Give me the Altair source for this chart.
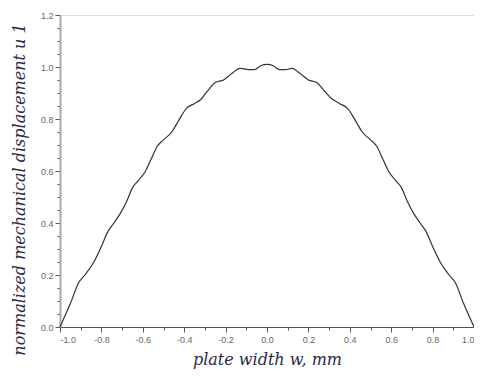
import altair as alt
import pandas as pd

# plate width positions (mm) and normalized displacement u1
w = [-1.0, -0.95, -0.91, -0.88, -0.84, -0.80, -0.77, -0.74, -0.71, -0.68,
     -0.65, -0.62, -0.59, -0.56, -0.53, -0.50, -0.46, -0.43, -0.39, -0.35,
     -0.32, -0.29, -0.25, -0.21, -0.17, -0.13, -0.09, -0.06, -0.03, 0.0,
     0.03, 0.06, 0.09, 0.12, 0.16, 0.20, 0.24, 0.28, 0.31, 0.35,
     0.39, 0.43, 0.46, 0.50, 0.53, 0.56, 0.59, 0.62, 0.65, 0.68,
     0.71, 0.74, 0.77, 0.80, 0.84, 0.88, 0.91, 0.95, 1.0]
u1 = [0.0, 0.09, 0.17, 0.20, 0.245, 0.31, 0.365, 0.40, 0.435, 0.48,
      0.535, 0.565, 0.595, 0.645, 0.695, 0.72, 0.75, 0.79, 0.84, 0.86,
      0.875, 0.905, 0.94, 0.95, 0.975, 0.995, 0.99, 0.99, 1.005, 1.01,
      1.005, 0.99, 0.99, 0.995, 0.975, 0.95, 0.94, 0.905, 0.88, 0.86,
      0.84, 0.79, 0.75, 0.72, 0.695, 0.645, 0.595, 0.565, 0.535, 0.48,
      0.435, 0.40, 0.365, 0.31, 0.245, 0.20, 0.17, 0.09, 0.0]

x_ticks = [round(-1.0 + 0.1 * i, 2) for i in range(21)]
y_ticks = [round(0.05 * i, 2) for i in range(25)]

df = pd.DataFrame({"w": w, "u": u1})

major = "abs(round(datum.value*5) - datum.value*5) < 1e-6"

x_axis = alt.Axis(
    values=x_ticks,
    labelExpr=f"{major} ? replace(format(datum.value, '.1f'), '\u2212', '-') : ''",
    tickSize={"condition": {"test": major, "value": 5}, "value": 3},
    tickColor="#555", tickWidth=1,
    domainColor="#555", domainWidth=1.2,
    labelFont="Liberation Sans", labelFontSize=9, labelColor="#666",
    labelPadding=3, grid=False,
    title="plate width w, mm",
    titleFont="DejaVu Serif", titleFontStyle="italic", titleFontWeight="normal",
    titleFontSize=16, titleColor="#2a2a48", titlePadding=7,
)
y_axis = alt.Axis(
    values=y_ticks,
    labelExpr=f"{major} ? format(datum.value, '.1f') : ''",
    tickSize={"condition": {"test": major, "value": 5}, "value": 3},
    tickColor="#555", tickWidth=1,
    domainColor="#aaa", domainWidth=2,
    labelFont="Liberation Sans", labelFontSize=9, labelColor="#666",
    labelPadding=2, grid=False,
    title="normalized mechanical displacement  u 1",
    titleFont="DejaVu Serif", titleFontStyle="italic", titleFontWeight="normal",
    titleFontSize=16, titleColor="#2a2a48", titlePadding=13, titleY=174,
)

chart = alt.Chart(df).mark_line(color="#333", strokeWidth=1.2, interpolate="monotone").encode(
    x=alt.X("w:Q", scale=alt.Scale(domain=[-1.0, 1.0], nice=False, zero=False), axis=x_axis),
    y=alt.Y("u:Q", scale=alt.Scale(domain=[0.0, 1.2], nice=False), axis=y_axis),
).properties(
    width=414, height=312,
    autosize=alt.AutoSizeParams(type="none"),
    padding={"left": 52, "top": 7, "right": 0, "bottom": 45},
).configure_view(stroke="#888", strokeWidth=1.2).configure(background="white")

chart.save("out.html", embed_options={"renderer": "svg", "actions": False})
